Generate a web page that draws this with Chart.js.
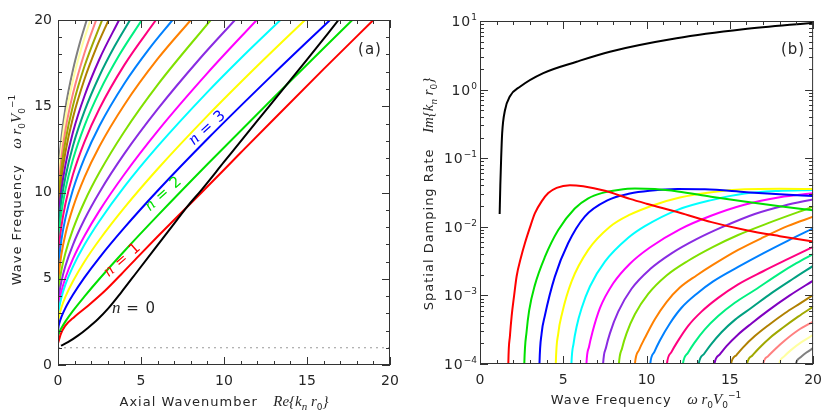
<!DOCTYPE html>
<html><head><meta charset="utf-8">
<script src="https://cdn.jsdelivr.net/npm/chart.js@4"></script>
<style>
html,body{margin:0;padding:0;background:#fff;width:830px;height:415px;overflow:hidden}
canvas{position:absolute;top:0;width:415px;height:415px}
#ca{left:0}#cb{left:415px}
</style></head><body>
<canvas id="ca" width="415" height="415"></canvas>
<canvas id="cb" width="415" height="415"></canvas>
<script>
// ---------- Panel (a): wave frequency vs Re{k r0}, pairs [Re k, omega] ----------
const a0  = [[0.18,1.12],[0.6,1.32],[1.2,1.7],[1.8,2.15],[2.4,2.65],[3.0,3.25],[3.8,4.2],[4.8,5.45],[5.8,6.7],[6.8,7.95],[7.8,9.2],[8.6,10.1],[10,11.77],[12,14.15],[13.4,15.8],[15,17.7],[16.9,20]];
const a1  = [[0.02,1.3],[0.15,1.75],[0.42,2.25],[1.0,2.8],[1.83,3.45],[2.83,4.3],[3.8,5.25],[4.84,6.3],[6.0,7.45],[7.5,8.9],[8.65,10.0],[11,12.3],[13,14.25],[16,17.15],[19.0,20]];
const a2  = [[0,1.6],[0.02,1.73],[0.08,1.90],[0.2,2.13],[0.45,2.53],[0.9,3.14],[1.6,3.98],[2.5,5.0],[4,6.61],[6,8.66],[9,11.64],[13,15.51],[17.73,20]];
const a3  = [[0,1.9],[0.02,2.14],[0.08,2.42],[0.2,2.77],[0.45,3.31],[0.9,4.07],[1.6,5.08],[2.5,6.23],[4,7.96],[6,10.10],[9,13.10],[13,16.89],[16.39,20]];
const a4  = [[0,2.2],[0.02,2.53],[0.08,2.88],[0.2,3.32],[0.45,3.97],[0.9,4.86],[1.6,6.0],[2.5,7.26],[4,9.12],[6,11.36],[9,14.44],[12,17.33],[14.88,20]];
const a5  = [[0,2.5],[0.02,2.92],[0.08,3.36],[0.2,3.89],[0.45,4.67],[0.9,5.70],[1.6,6.98],[2.5,8.35],[4,10.34],[6,12.67],[9,15.82],[11,17.77],[13.4,20]];
const a6  = [[0,2.8],[0.02,3.23],[0.08,3.69],[0.2,4.25],[0.45,5.06],[0.9,6.15],[1.6,7.49],[2.5,8.95],[4,11.06],[6,13.56],[9,16.92],[11.97,20]];
const a7  = [[0,3.1],[0.02,3.62],[0.08,4.16],[0.2,4.82],[0.45,5.75],[0.9,6.97],[1.6,8.45],[2.5,10.02],[4,12.25],[6,14.83],[8.5,17.71],[10.66,20]];
const a8  = [[0,3.5],[0.02,4.11],[0.08,4.73],[0.2,5.47],[0.45,6.51],[0.9,7.86],[1.6,9.48],[2.5,11.17],[4,13.54],[6,16.24],[9.2,20]];
const a9  = [[0,4.0],[0.02,4.75],[0.08,5.50],[0.2,6.39],[0.45,7.60],[0.9,9.12],[1.6,10.89],[2.5,12.68],[4,15.09],[6,17.74],[8.0,20]];
const a10 = [[0,4.6],[0.02,5.43],[0.08,6.26],[0.2,7.22],[0.45,8.53],[0.9,10.16],[1.6,12.01],[2.5,13.87],[4,16.32],[5.5,18.34],[6.9,20]];
const a11 = [[0,5.3],[0.02,6.16],[0.08,7.01],[0.2,8.01],[0.45,9.36],[0.9,11.04],[1.6,12.95],[2.5,14.87],[4,17.4],[5.9,20]];
const a12 = [[0,6.0],[0.02,6.88],[0.08,7.76],[0.2,8.79],[0.45,10.18],[0.9,11.91],[1.6,13.88],[2.5,15.85],[3.7,17.98],[5.05,20]];
const a13 = [[0,6.6],[0.02,7.51],[0.08,8.42],[0.2,9.48],[0.45,10.91],[0.9,12.70],[1.6,14.73],[2.5,16.77],[3.4,18.46],[4.34,20]];
const a14 = [[0,7.1],[0.02,8.05],[0.08,9.0],[0.2,10.11],[0.45,11.61],[0.9,13.49],[1.6,15.61],[2.5,17.74],[3.68,20]];
const a15 = [[0,7.6],[0.02,8.60],[0.08,9.61],[0.2,10.78],[0.45,12.36],[0.9,14.34],[1.6,16.58],[2.3,18.37],[3.05,20]];
const a16 = [[0,8.1],[0.02,9.13],[0.08,10.16],[0.2,11.37],[0.45,13.0],[0.9,15.03],[1.6,17.33],[2.66,20]];
const a17 = [[0,8.6],[0.02,9.66],[0.08,10.72],[0.2,11.96],[0.45,13.64],[0.9,15.72],[1.6,18.1],[2.3,20]];
const a18 = [[0,9.1],[0.02,10.20],[0.08,11.31],[0.2,12.59],[0.45,14.34],[0.9,16.51],[1.4,18.34],[1.95,20]];
const a19 = [[0,9.6],[0.02,10.72],[0.08,11.84],[0.2,13.14],[0.45,14.91],[0.9,17.10],[1.3,18.62],[1.73,20]];
const aCutoff = [[0,1],[20,1]];

// ---------- Panel (b): Im{k r0} vs omega, pairs [omega, Im k] ----------
const b0  = [[1.18,0.0154],[1.22,0.04],[1.27,0.1],[1.33,0.23],[1.5,0.5],[1.8,0.8],[2.4,1.1],[3.8,1.74],[5.8,2.55],[7.8,3.57],[11.8,5.6],[15.8,7.57],[20,9.44]];
const b1  = [[1.68,4e-5],[1.70,1e-4],[1.8,2.6e-4],[1.9,5e-4],[2.05,1e-3],[2.2,1.9e-3],[2.45,3.5e-3],[2.7,5.8e-3],[3.0,9.8e-3],[3.3,0.0158],[3.7,0.0235],[4.1,0.031],[4.6,0.037],[5.4,0.0405],[6.2,0.039],[7.5,0.0335],[9.0,0.0255],[10,0.0217],[12,0.016],[13.9,0.0117],[16,0.0089],[18,0.0073],[20,0.0061]];
const b2  = [[2.63,4e-5],[2.66,1e-4],[2.8,3e-4],[2.95,6e-4],[3.29,1.4e-3],[3.89,3.6e-3],[4.69,8.9e-3],[5.69,0.0185],[6.5,0.026],[7.3,0.031],[8.3,0.0345],[9.3,0.0362],[10.5,0.0355],[11.87,0.0328],[13.87,0.0275],[15.87,0.0234],[18,0.0200],[20,0.0174]];
const b3  = [[3.54,4e-5],[3.57,1e-4],[3.7,2.8e-4],[3.89,5e-4],[4.49,1.86e-3],[5.29,5.75e-3],[6.29,0.0141],[7.68,0.0245],[9.0,0.0305],[10.18,0.0335],[11.87,0.0355],[13.5,0.0352],[16,0.032],[18,0.0298],[20,0.0281]];
const b4  = [[4.52,4e-5],[4.55,1e-4],[4.7,2.8e-4],[4.93,5.5e-4],[5.5,1.6e-3],[6.5,4.6e-3],[7.8,0.0100],[9.0,0.0150],[10.5,0.021],[12,0.0268],[13.9,0.032],[15.9,0.0352],[18,0.0358],[20,0.0356]];
const b5  = [[5.46,5e-5],[5.49,1e-4],[5.62,2e-4],[5.8,3.5e-4],[6.1,6.5e-4],[6.6,1.35e-3],[7.5,3.1e-3],[8.9,6.9e-3],[9.9,0.0102],[11.9,0.0178],[13.9,0.0245],[15.9,0.0305],[17.9,0.0333],[20,0.0344]];
const b6  = [[6.35,5e-5],[6.39,1e-4],[6.55,1.8e-4],[6.75,2.9e-4],[7.2,6.5e-4],[8.0,1.5e-3],[9.0,2.9e-3],[10.2,5e-3],[12,9.2e-3],[13.87,0.0145],[15.87,0.021],[18,0.027],[20,0.0308]];
const b7  = [[7.34,5e-5],[7.39,1e-4],[7.57,1.75e-4],[7.8,2.8e-4],[8.3,5.8e-4],[9.1,1.25e-3],[10.2,2.4e-3],[11.5,4.1e-3],[13,6.6e-3],[14.5,9.8e-3],[16.5,0.0154],[18.3,0.0205],[20,0.0251]];
const b8  = [[8.28,5e-5],[8.34,1e-4],[8.53,1.7e-4],[8.8,2.8e-4],[9.3,5.3e-4],[10.1,1.05e-3],[11.2,1.95e-3],[12.5,3.2e-3],[14,5.1e-3],[15.5,7.6e-3],[17.3,0.0113],[20,0.0196]];
const b9  = [[9.23,5e-5],[9.30,1e-4],[9.55,1.6e-4],[9.9,2.4e-4],[10.5,4.5e-4],[11.2,8e-4],[12,1.3e-3],[13,1.95e-3],[14,2.8e-3],[15.5,4.6e-3],[17,7e-3],[18.5,1.03e-2],[20,0.0140]];
const b10 = [[10.14,5e-5],[10.22,1e-4],[10.47,1.5e-4],[10.8,2.2e-4],[11.4,3.9e-4],[12.1,6.6e-4],[13,1.05e-3],[14,1.6e-3],[15.5,2.6e-3],[17,4.1e-3],[18.5,6.3e-3],[20,9.5e-3]];
const b11 = [[11.13,5e-5],[11.22,1e-4],[11.5,1.5e-4],[11.85,2.1e-4],[12.5,3.6e-4],[13.3,5.8e-4],[14.3,9.2e-4],[15.5,1.45e-3],[17,2.25e-3],[18.5,3.4e-3],[20,5.1e-3]];
const b12 = [[12.08,5e-5],[12.18,1e-4],[12.48,1.45e-4],[12.85,2.0e-4],[13.5,3.2e-4],[14.3,5.0e-4],[15.3,7.8e-4],[16.5,1.2e-3],[18,2.1e-3],[19,2.95e-3],[20,4.0e-3]];
const b13 = [[13.02,5e-5],[13.13,1e-4],[13.45,1.4e-4],[13.85,1.9e-4],[14.5,2.9e-4],[15.3,4.4e-4],[16.3,6.6e-4],[17.5,1.08e-3],[18.8,1.75e-3],[20,2.69e-3]];
const b14 = [[13.95,5e-5],[14.07,1e-4],[14.4,1.38e-4],[14.8,1.82e-4],[15.5,2.7e-4],[16.3,3.9e-4],[17.3,6.0e-4],[18.6,1.0e-3],[20,1.64e-3]];
const b15 = [[14.94,5e-5],[15.07,1e-4],[15.4,1.35e-4],[15.8,1.75e-4],[16.5,2.55e-4],[17.3,3.65e-4],[18.3,5.5e-4],[19.2,7.6e-4],[20,1.01e-3]];
const b16 = [[15.9,5e-5],[16.03,1e-4],[16.35,1.33e-4],[16.75,1.7e-4],[17.4,2.4e-4],[18.2,3.4e-4],[19.1,4.9e-4],[20,6.85e-4]];
const b17 = [[16.86,5e-5],[17.0,1e-4],[17.3,1.3e-4],[17.7,1.63e-4],[18.3,2.2e-4],[19.1,3.1e-4],[20,4.14e-4]];
const b18 = [[17.82,5e-5],[17.96,1e-4],[18.25,1.28e-4],[18.65,1.58e-4],[19.3,2.08e-4],[20,2.65e-4]];
const b19 = [[18.82,5e-5],[18.96,1e-4],[19.25,1.25e-4],[19.6,1.47e-4],[20,1.7e-4]];

const axisTicks = [0, 5, 10, 15, 20];
const logDecades = [-4, -3, -2, -1, 0, 1];

// ---------- styles ----------
const modeColors = ['#000000','#ff0000','#00e000','#0000ff','#ffff00','#00ffff','#ff00ff','#8a2be2',
  '#80e000','#ff8000','#0080ff','#ff0080','#00f080','#00a080','#8000c0','#b08000','#a0a800',
  '#ff8080','#ffffa0','#808080'];
const curvesA = [a0,a1,a2,a3,a4,a5,a6,a7,a8,a9,a10,a11,a12,a13,a14,a15,a16,a17,a18,a19];
const curvesB = [b0,b1,b2,b3,b4,b5,b6,b7,b8,b9,b10,b11,b12,b13,b14,b15,b16,b17,b18,b19];

const SANS = '"DejaVu Sans"';
const SERIF = '"Liberation Serif"';
const TXT = '#262626';
const S = (t, sz=13) => ({t, font: sz+'px '+SANS, dy:0, ls:1});
const I = (t, sz=15) => ({t, font: 'italic '+sz+'px '+SERIF, dy:0, ls:0});
const Sb = (t, it) => ({t, font: (it?'italic 11px '+SERIF:'9px '+SANS), dy:4, ls:0});
const Sp = (t) => ({t, font: '9px '+SANS, dy:-6, ls:0});

function drawRich(ctx, segs, cx, cy, rot, color){
  ctx.save();
  ctx.translate(cx, cy); ctx.rotate(rot);
  ctx.fillStyle = color; ctx.textBaseline = 'alphabetic'; ctx.textAlign = 'left';
  let w = 0;
  for (const s of segs){ ctx.font = s.font; ctx.letterSpacing = s.ls+'px'; s.w = ctx.measureText(s.t).width; w += s.w; }
  let x = -w/2;
  for (const s of segs){ ctx.font = s.font; ctx.letterSpacing = s.ls+'px'; ctx.fillText(s.t, x, 5 + s.dy); x += s.w; }
  ctx.restore();
}

function makeSets(curves){
  return curves.map((d,i)=>({
    data: d.map(p=>({x:p[0], y:p[1]})),
    borderColor: modeColors[i], borderWidth: 2, pointRadius: 0, showLine: true, fill: false,
    cubicInterpolationMode: 'monotone'
  }));
}

const framePlugin = {
  id: 'frame',
  afterDraw(chart, args, o){
    const ctx = chart.ctx, ca = chart.chartArea, xs = chart.scales.x, ys = chart.scales.y;
    ctx.save();
    ctx.strokeStyle = '#333'; ctx.lineWidth = 1;
    ctx.strokeRect(ca.left+0.5, ca.top+0.5, ca.right-ca.left-1, ca.bottom-ca.top-1);
    ctx.beginPath();
    for (let v = 0; v <= 20; v++){
      const L = (v % 5 === 0) ? 8 : 4;
      const px = Math.round(xs.getPixelForValue(v)) + 0.5;
      ctx.moveTo(px, ca.bottom); ctx.lineTo(px, ca.bottom - L);
      ctx.moveTo(px, ca.top); ctx.lineTo(px, ca.top + L);
    }
    if (o.log){
      for (const d of logDecades){
        for (let m = 1; m <= 9; m++){
          if (d === 1 && m > 1) break;
          const L = m === 1 ? 8 : 4;
          const py = Math.round(ys.getPixelForValue(m * Math.pow(10, d))) + 0.5;
          ctx.moveTo(ca.left, py); ctx.lineTo(ca.left + L, py);
          ctx.moveTo(ca.right, py); ctx.lineTo(ca.right - L, py);
        }
      }
    } else {
      for (let v = 0; v <= 20; v++){
        const L = (v % 5 === 0) ? 8 : 4;
        const py = Math.round(ys.getPixelForValue(v)) + 0.5;
        ctx.moveTo(ca.left, py); ctx.lineTo(ca.left + L, py);
        ctx.moveTo(ca.right, py); ctx.lineTo(ca.right - L, py);
      }
    }
    ctx.stroke();
    if (o.log){
      for (const d of logDecades){
        const py = ys.getPixelForValue(Math.pow(10, d));
        const ex = d < 0 ? '\u2212' + (-d) : String(d);
        ctx.font = '9px ' + SANS; ctx.letterSpacing = '0px';
        const we = ctx.measureText(ex).width;
        ctx.fillStyle = TXT; ctx.textAlign = 'left'; ctx.textBaseline = 'alphabetic';
        const right = ca.left - 3;
        ctx.fillText(ex, right - we, py - 1);
        ctx.font = '14px ' + SANS; ctx.letterSpacing = '1px';
        const wb = ctx.measureText('10').width;
        ctx.fillText('10', right - we - wb, py + 5);
      }
    }
    ctx.restore();
    for (const lab of (o.labels || [])) drawRich(ctx, lab.segs, lab.x, lab.y, lab.rot || 0, lab.color || TXT);
  }
};

function baseScales(opts){
  const tickFont = {family: 'DejaVu Sans', size: 14};
  return {
    x: {type:'linear', min:0, max:20,
        ticks:{stepSize:5, font:tickFont, color:TXT, padding:8, maxRotation:0, autoSkip:false,
               callback:(v)=> axisTicks.includes(v) ? String(v) : ''},
        grid:{display:false, drawTicks:false}, border:{display:false},
        afterFit(s){ s.height = opts.xh; }},
    y: opts.log ?
       {type:'logarithmic', min:1e-4, max:10, ticks:{display:false},
        grid:{display:false, drawTicks:false}, border:{display:false},
        afterFit(s){ s.width = opts.yw; }} :
       {type:'linear', min:0, max:20,
        ticks:{stepSize:5, font:tickFont, color:TXT, padding:6, autoSkip:false,
               callback:(v)=> axisTicks.includes(v) ? String(v) : ''},
        grid:{display:false, drawTicks:false}, border:{display:false},
        afterFit(s){ s.width = opts.yw; }}
  };
}

const freqSegs = [S('Wave Frequency'), S('   '), I('\u03c9 r'), Sb('0'), I('V'), Sb('0'), Sp('\u22121')];

// ----- chart (a)
const setsA = makeSets(curvesA);
setsA.push({data: aCutoff.map(p=>({x:p[0],y:p[1]})), borderColor:'#999', borderWidth:1.2,
  borderDash:[2,4], pointRadius:0, showLine:true, fill:false});
new Chart(document.getElementById('ca'), {
  type: 'scatter',
  data: {datasets: setsA},
  options: {
    responsive:false, animation:false, devicePixelRatio:1, events:[],
    layout:{padding:{top:20, right:25, left:0, bottom:0}},
    scales: baseScales({xh:50, yw:58, log:false}),
    plugins: {legend:{display:false}, tooltip:{enabled:false},
      frame: {log:false, labels:[
        {segs:[S('Axial Wavenumber'), S('   '), I('Re{k'), Sb('n',true), I(' r'), Sb('0'), I('}')], x:224, y:401},
        {segs:freqSegs, x:16, y:190, rot:-Math.PI/2},
        {segs:[S('(a)',15)], x:370, y:49},
        {segs:[I('n',17), S(' = 0',15)], x:134, y:308},
        {segs:[I('n',17), S(' = 1',15)], x:122, y:259, rot:-0.72, color:'#ff0000'},
        {segs:[I('n',17), S(' = 2',15)], x:163, y:193, rot:-0.73, color:'#00e000'},
        {segs:[I('n',17), S(' = 3',15)], x:207, y:127, rot:-0.74, color:'#0000ff'}
      ]}
    }
  },
  plugins:[framePlugin]
});

// ----- chart (b)
const setsB = makeSets(curvesB);
new Chart(document.getElementById('cb'), {
  type: 'scatter',
  data: {datasets: setsB},
  options: {
    responsive:false, animation:false, devicePixelRatio:1, events:[],
    layout:{padding:{top:21, right:16, left:0, bottom:0}},
    scales: baseScales({xh:51, yw:65, log:true}),
    plugins: {legend:{display:false}, tooltip:{enabled:false},
      frame: {log:true, labels:[
        {segs:freqSegs, x:231, y:399},
        {segs:[S('Spatial Damping Rate'), S('   '), I('Im{k'), Sb('n',true), I(' r'), Sb('0'), I('}')], x:13, y:194, rot:-Math.PI/2},
        {segs:[S('(b)',15)], x:378, y:49}
      ]}
    }
  },
  plugins:[framePlugin]
});
</script>
</body></html>
